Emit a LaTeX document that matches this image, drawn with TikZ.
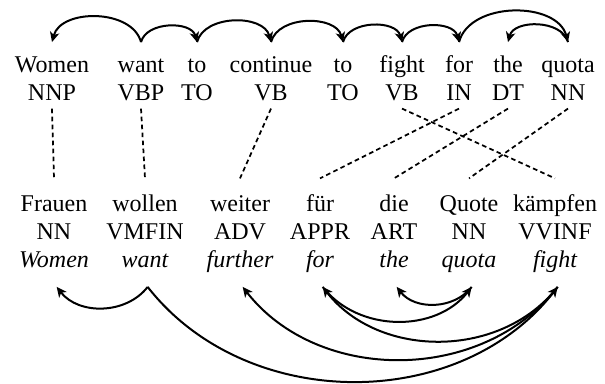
\documentclass[tikz,border=0pt]{standalone}
\usepackage{fontspec}
\setmainfont{Liberation Serif}
\usetikzlibrary{arrows.meta}
\begin{document}
\begin{tikzpicture}[x=0.75pt,y=0.75pt,
  lbl/.style={inner sep=0pt, anchor=base, font=\fontsize{18}{20}\selectfont, text height=13pt, text depth=4pt},
  gl/.style={lbl, font=\fontsize{18}{20}\selectfont\itshape},
  deparc/.style={line width=1.5pt, -{Stealth[length=7.5pt,width=7pt,inset=2pt]}},
  upl/.style={out=75,in=105,looseness=1.0},
  upr/.style={out=105,in=75,looseness=1.0},
  dnl/.style={out=-52,in=-128},
  dnr/.style={out=-128,in=-52},
  algn/.style={line width=1.3pt, dash pattern=on 3.5pt off 2.5pt},
]
\useasboundingbox (0,0) rectangle (605,384);
% English
\node[lbl] (w1) at (52,311) {Women};   \node[lbl] (p1) at (52,283) {NNP};
\node[lbl] (w2) at (141,311) {want};   \node[lbl] (p2) at (141,283) {VBP};
\node[lbl] (w3) at (197,311) {to};     \node[lbl] (p3) at (197,283) {TO};
\node[lbl] (w4) at (271,311) {continue}; \node[lbl] (p4) at (271,283) {VB};
\node[lbl] (w5) at (343,311) {to};     \node[lbl] (p5) at (343,283) {TO};
\node[lbl] (w6) at (402,311) {fight};  \node[lbl] (p6) at (402,283) {VB};
\node[lbl] (w7) at (459,311) {for};    \node[lbl] (p7) at (459,283) {IN};
\node[lbl] (w8) at (508,311) {the};    \node[lbl] (p8) at (508,283) {DT};
\node[lbl] (w9) at (568,311) {quota};  \node[lbl] (p9) at (568,283) {NN};
% German
\node[lbl] (g1) at (54,172) {Frauen};  \node[lbl] (q1) at (54,144) {NN};    \node[gl] (e1) at (54,116) {Women};
\node[lbl] (g2) at (145,172) {wollen}; \node[lbl] (q2) at (145,144) {VMFIN}; \node[gl] (e2) at (145,116) {want};
\node[lbl] (g3) at (240,172) {weiter}; \node[lbl] (q3) at (240,144) {ADV};   \node[gl] (e3) at (240,116) {further};
\node[lbl] (g4) at (320,172) {für};    \node[lbl] (q4) at (320,144) {APPR};  \node[gl] (e4) at (320,116) {for};
\node[lbl] (g5) at (394,172) {die};    \node[lbl] (q5) at (394,144) {ART};   \node[gl] (e5) at (394,116) {the};
\node[lbl] (g6) at (469,172) {Quote};  \node[lbl] (q6) at (469,144) {NN};    \node[gl] (e6) at (469,116) {quota};
\node[lbl] (g7) at (555,172) {kämpfen};\node[lbl] (q7) at (555,144) {VVINF}; \node[gl] (e7) at (555,116) {fight};
% arc anchors
\foreach \i in {1,...,9} {\coordinate (a\i) at ([yshift=10pt]w\i.north);}
\foreach \i in {1,...,7} {\coordinate (b\i) at ([xshift=2pt,yshift=-10pt]e\i.south);}
% top arcs
\draw[deparc] (a2) to[upr] (a1);
\draw[deparc] (a2) to[upl] (a3);
\draw[deparc] (a3) to[upl] (a4);
\draw[deparc] (a4) to[upl] (a5);
\draw[deparc] (a5) to[upl] (a6);
\draw[deparc] (a6) to[upl] (a7);
\draw[deparc] (a7) to[upl] (a9);
\draw[deparc] (a9) to[upr] (a8);
% bottom arcs
\draw[deparc] (b2) to[dnr] (b1);
\draw[deparc] (b2) to[dnl] (b7);
\draw[deparc] (b7) to[dnr] (b3);
\draw[deparc] (b7) to[dnr] (b4);
\draw[deparc] (b4) to[dnl] (b6);
\draw[deparc] (b6) to[dnr] (b5);
% alignment
\draw[algn] ([yshift=-1.5pt]p1.south) -- ([yshift=12pt]g1.north);
\draw[algn] ([yshift=-1.5pt]p2.south) -- ([yshift=12pt]g2.north);
\draw[algn] ([yshift=-1.5pt]p4.south) -- ([yshift=12pt]g3.north);
\draw[algn] ([yshift=-1.5pt]p6.south) -- ([yshift=12pt]g7.north);
\draw[algn] ([yshift=-1.5pt]p7.south) -- ([yshift=12pt]g4.north);
\draw[algn] ([yshift=-1.5pt]p8.south) -- ([yshift=12pt]g5.north);
\draw[algn] ([yshift=-1.5pt]p9.south) -- ([yshift=12pt]g6.north);
\end{tikzpicture}
\end{document}
